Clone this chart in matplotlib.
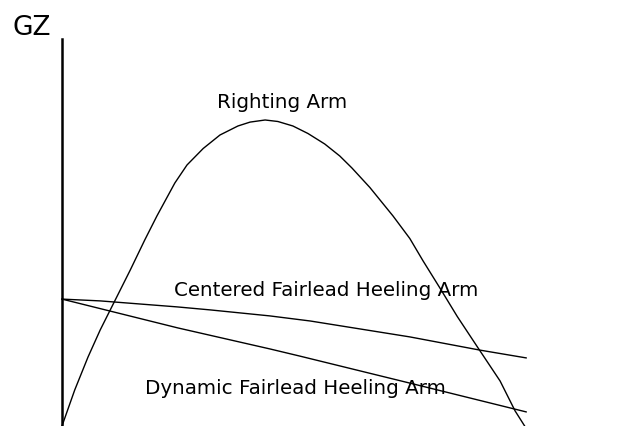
import matplotlib.pyplot as plt

# Heel angle (deg) and GZ (m) for each curve
righting_deg = [0, 2.2, 4.5, 6.6, 9.2, 11.8, 14.3, 16.4, 19.5, 21.6, 24.4, 27.3, 30.4,
                32.5, 35.1, 37.3, 39.9, 42.5, 45.4, 48.0, 50.1, 53.2, 57.2, 60.1, 62.4,
                65.3, 68.3, 71.9, 75.7, 78.3, 80.6]
righting_gz = [0.00, 0.12, 0.23, 0.32, 0.42, 0.52, 0.62, 0.70, 0.81, 0.87, 0.925, 0.97, 1.00,
               1.013, 1.02, 1.015, 1.00, 0.975, 0.94, 0.90, 0.86, 0.795, 0.70, 0.625, 0.55,
               0.46, 0.365, 0.26, 0.15, 0.05, -0.02]

centered_deg = [0, 6.6, 19.9, 25.6, 35.9, 42.9, 60.1, 72.2, 80.2]
centered_gz = [0.423, 0.417, 0.397, 0.387, 0.367, 0.350, 0.297, 0.253, 0.227]

dynamic_deg = [0, 20.0, 35.9, 41.1, 60.1, 80.2]
dynamic_gz = [0.423, 0.327, 0.257, 0.233, 0.143, 0.047]

fig = plt.figure(figsize=(6.28, 4.27), dpi=100)
ax = fig.add_axes([0, 0, 1, 1])
ax.set_xlim(-10.71, 97.8)
ax.set_ylim(0, 1.4233)

ax.plot(righting_deg, righting_gz, color='black', lw=1.0)
ax.plot(centered_deg, centered_gz, color='black', lw=1.0)
ax.plot(dynamic_deg, dynamic_gz, color='black', lw=1.0)

# only the GZ axis is drawn
for side in ['top', 'right', 'bottom']:
    ax.spines[side].set_visible(False)
ax.spines['left'].set_position(('data', 0))
ax.spines['left'].set_bounds(0, 1.29)
ax.spines['left'].set_linewidth(1.8)
ax.set_xticks([])
ax.set_yticks([])
ax.patch.set_visible(False)

ax.text(-5.25, 1.307, 'GZ', fontsize=19, ha='center', va='baseline')
ax.text(38.0, 1.063, 'Righting Arm', fontsize=14.3, ha='center', va='baseline')
ax.text(45.6, 0.437, 'Centered Fairlead Heeling Arm', fontsize=14.3, ha='center', va='baseline')
ax.text(40.3, 0.11, 'Dynamic Fairlead Heeling Arm', fontsize=14.3, ha='center', va='baseline')

fig.savefig('out.png', dpi=100)
